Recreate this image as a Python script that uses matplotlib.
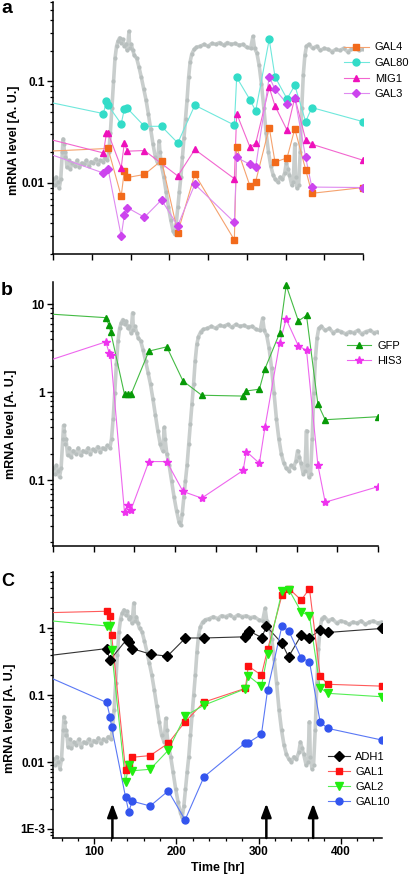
import numpy as np
import matplotlib
matplotlib.use('Agg')
import matplotlib.pyplot as plt
from matplotlib.lines import Line2D
from matplotlib.ticker import LogLocator, MultipleLocator, FuncFormatter, NullFormatter

plt.rcParams['font.family'] = ['Liberation Sans', 'DejaVu Sans']

# ---------------- background (grey) trace, shared by all panels ----------------
grey_t = [50, 52, 54, 56, 58, 60, 62, 63, 64, 65, 66, 68, 70, 72, 75, 78, 81, 84, 87, 90,
          93, 96, 99, 102, 105, 108, 111, 114, 117, 120, 122, 124, 126, 128, 130, 132, 134,
          136, 138, 140, 142, 144, 146, 148, 149, 151, 153, 155, 158, 161, 164, 167, 170,
          173, 176, 179, 182, 185, 187, 188, 190, 193, 196, 199, 202, 205, 207, 209, 211,
          213, 215, 217, 219, 221, 223, 225, 227, 229, 232, 235, 240, 245, 250, 255, 260,
          265, 270, 275, 280, 285, 290, 295, 300, 305, 308, 310, 313, 316, 319, 322, 325,
          328, 331, 334, 337, 340, 343, 346, 349, 351, 353, 355, 358, 360, 362, 363, 365,
          367, 369, 371, 373, 375, 377, 380, 385, 390, 395, 400, 405, 410, 415, 420, 425,
          430, 435, 440, 445, 450]
grey_v = [0.011, 0.009, 0.012, 0.010, 0.008, 0.011, 0.030, 0.048, 0.040, 0.025, 0.030, 0.017,
          0.022, 0.016, 0.020, 0.018, 0.022, 0.017, 0.020, 0.019, 0.022, 0.018, 0.021, 0.020,
          0.023, 0.019, 0.022, 0.021, 0.024, 0.022, 0.030, 0.06, 0.15, 0.4, 0.9, 1.4, 1.7,
          1.9, 1.6, 1.8, 1.4, 1.5, 1.2, 2.4, 1.3, 1.5, 1.2, 1.0, 0.9, 0.65, 0.45, 0.3, 0.2,
          0.12, 0.07, 0.04, 0.025, 0.02, 0.045, 0.03, 0.018, 0.012, 0.007, 0.004, 0.0025,
          0.0017, 0.0015, 0.0022, 0.004, 0.007, 0.012, 0.025, 0.05, 0.1, 0.2, 0.45, 0.8,
          1.05, 1.25, 1.35, 1.4, 1.5, 1.4, 1.55, 1.5, 1.6, 1.45, 1.6, 1.5, 1.55, 1.45, 1.5,
          1.35, 1.3, 2.0, 1.3, 1.1, 0.7, 0.35, 0.15, 0.06, 0.03, 0.018, 0.013, 0.011, 0.010,
          0.012, 0.011, 0.014, 0.02, 0.016, 0.013, 0.009, 0.010, 0.040, 0.012, 0.008, 0.009,
          0.03, 0.15, 0.5, 1.0, 1.4, 1.5, 1.3, 1.4, 1.2, 1.3, 1.25, 1.15, 1.25, 1.2, 1.3,
          1.15, 1.25, 1.3, 1.2, 1.25]

# ---------------- panel a ----------------
t_gal4 = [50, 121, 138, 142, 146, 168, 190, 211, 233, 284, 287, 304, 311.5, 329, 336.5, 352, 362, 376, 384, 450]
gal4 = [0.0206, 0.0218, 0.0074, 0.0131, 0.0113, 0.0121, 0.0166, 0.00325, 0.0122, 0.00275, 0.0224,
        0.0094, 0.0103, 0.035, 0.016, 0.0176, 0.034, 0.0135, 0.0079, 0.009]
t_gal80 = [50, 115, 119, 121, 138, 142, 146, 168, 190, 211, 233, 284, 287, 304, 311.5, 329, 336.5, 352, 362, 376, 384, 450]
gal80 = [0.061, 0.048, 0.064, 0.058, 0.038, 0.053, 0.054, 0.036, 0.036, 0.0247, 0.058, 0.037, 0.109,
         0.066, 0.051, 0.257, 0.11, 0.067, 0.091, 0.04, 0.055, 0.04]
t_mig1 = [50, 115, 119, 121, 138, 142, 146, 168, 211, 233, 284, 287, 304, 311.5, 329, 336.5, 352, 362, 376, 384, 450]
mig1 = [0.0263, 0.0197, 0.031, 0.031, 0.0141, 0.0247, 0.0205, 0.0208, 0.0117, 0.0213, 0.011, 0.048,
        0.0226, 0.0244, 0.087, 0.057, 0.033, 0.069, 0.0267, 0.024, 0.0167]
t_gal3 = [50, 115, 121, 138, 142, 146, 168, 190, 211, 233, 284, 287, 304, 311.5, 329, 336.5, 352, 362, 376, 384, 450]
gal3 = [0.0187, 0.0125, 0.0138, 0.003, 0.0048, 0.0057, 0.0046, 0.0068, 0.0038, 0.0097, 0.0041, 0.0178,
        0.0152, 0.0143, 0.11, 0.083, 0.060, 0.069, 0.0178, 0.0091, 0.009]

# ---------------- panel b ----------------
t_b = [50, 115, 119, 121, 138, 142, 146, 168, 190, 210, 233, 284, 288, 304, 311, 329, 337, 352, 362, 376, 385, 450]
gfp = [7.74, 7.08, 5.8, 4.88, 0.95, 0.95, 0.95, 2.95, 3.3, 1.35, 0.93, 0.91, 1.04, 1.09, 1.87, 4.75,
       16.5, 6.5, 7.5, 0.74, 0.49, 0.53]
his3 = [2.39, 3.76, 2.84, 2.65, 0.0433, 0.0529, 0.0464, 0.164, 0.164, 0.075, 0.063, 0.13, 0.213,
        0.157, 0.41, 3.66, 6.8, 3.38, 3.02, 0.15, 0.0566, 0.085]

# ---------------- panel c ----------------
t_adh1 = [50, 115, 119, 140, 142, 146, 169, 189, 211, 233.5, 284, 286, 288, 304, 309.5, 328.5, 336.5, 352, 362, 375, 384, 450]
adh1 = [0.40, 0.50, 0.336, 0.70, 0.63, 0.50, 0.41, 0.385, 0.72, 0.72, 0.75, 0.84, 0.92, 0.73, 1.08,
        0.60, 0.377, 0.79, 0.73, 0.94, 0.87, 1.0]
t_c = [50, 115, 119, 121, 138, 142, 146, 168, 190, 210.5, 233.5, 284, 287.5, 303.5, 311, 328.5, 337, 352, 362, 375, 384, 450]
gal1 = [1.73, 1.81, 1.53, 0.81, 0.0076, 0.0093, 0.0118, 0.0125, 0.0191, 0.04, 0.079, 0.127, 0.273,
        0.2, 0.485, 3.15, 3.96, 2.65, 3.96, 0.196, 0.146, 0.137]
gal2 = [1.29, 1.09, 1.08, 0.47, 0.005, 0.009, 0.0074, 0.0078, 0.015, 0.049, 0.071, 0.125, 0.196,
        0.137, 0.41, 3.6, 3.8, 1.77, 1.55, 0.13, 0.107, 0.095]
gal10 = [0.175, 0.078, 0.048, 0.0335, 0.003, 0.0018, 0.0026, 0.0022, 0.0037, 0.00136, 0.006, 0.0195,
         0.0195, 0.026, 0.12, 1.09, 0.91, 0.36, 0.32, 0.04, 0.032, 0.0214]
arrow_times = [122, 309.5, 366.5]

# ---------------------------------------------------------------------------
W, H = 415, 884
fig = plt.figure(figsize=(W / 100, H / 100), dpi=100)


def rect(l, r, t, b):
    return [l / W, (H - b) / H, (r - l) / W, (b - t) / H]


ax_a = fig.add_axes(rect(53, 363, 2, 254))
ax_b = fig.add_axes(rect(53, 378, 282, 546))
ax_c = fig.add_axes(rect(53.3, 381.7, 572, 838))

GREY = '#c9cecd'
GREY_LIM = (7.3e-4, 7.0)


def grey_trace(ax):
    g = ax.twinx()
    g.set_yscale('log')
    g.set_ylim(*GREY_LIM)
    g.set_xlim(50, 450)
    g.plot(grey_t, grey_v, color=GREY, lw=2.6, solid_joinstyle='round')
    g.plot(grey_t, grey_v, ls='none', marker='o', ms=3.0, mec='none', mfc='#b8bfbe')
    g.set_axis_off()
    ax.set_zorder(g.get_zorder() + 1)
    ax.patch.set_visible(False)


def series(ax, t, v, lc, mc, marker, ms=5):
    ax.plot(t, v, color=lc, lw=0.8, zorder=3)
    ax.plot(t[1:], v[1:], ls='none', marker=marker, ms=ms, mfc=mc, mec=mc, zorder=4)
    return Line2D([], [], color=lc, lw=0.8, marker=marker, ms=ms, mfc=mc, mec=mc)


def style(ax, ylim):
    ax.set_yscale('log')
    ax.set_ylim(*ylim)
    ax.set_xlim(50, 450)
    for s in ['top', 'right']:
        ax.spines[s].set_visible(False)
    for s in ['left', 'bottom']:
        ax.spines[s].set_linewidth(1.1)
    ax.yaxis.set_major_locator(LogLocator(base=10, numticks=20))
    ax.yaxis.set_minor_locator(LogLocator(base=10, subs=np.arange(2, 10), numticks=20))
    ax.yaxis.set_minor_formatter(NullFormatter())
    ax.tick_params(axis='both', which='major', direction='out', length=4, width=1.0,
                   labelsize=8.5, pad=2)
    ax.tick_params(axis='both', which='minor', direction='out', length=2.2, width=0.9)


def yfmt(v, pos):
    if v >= 1:
        return '%d' % round(v)
    if abs(v - 1e-3) < 1e-9:
        return '1E-3'
    return ('%g' % v)


# ---------------- panel a ----------------
grey_trace(ax_a)
h = []
h.append(series(ax_a, t_gal4, gal4, '#f5a26e', '#f26a1b', 's', 4.6))
h.append(series(ax_a, t_gal80, gal80, '#6fe8dc', '#33dcc8', 'o', 5))
h.append(series(ax_a, t_mig1, mig1, '#f266cf', '#ee11bb', '^', 5))
h.append(series(ax_a, t_gal3, gal3, '#df8af0', '#cc44ee', 'D', 4.4))
style(ax_a, (0.002, 0.6))
ax_a.xaxis.set_major_locator(MultipleLocator(50))
ax_a.xaxis.set_major_formatter(NullFormatter())
ax_a.yaxis.set_major_formatter(FuncFormatter(yfmt))
ax_a.legend(h, ['GAL4', 'GAL80', 'MIG1', 'GAL3'], loc='upper left',
            bbox_to_anchor=(0.925, 0.857), frameon=False, fontsize=8,
            handlelength=2.2, handletextpad=0.55, labelspacing=0.5, borderaxespad=0)

# ---------------- panel b ----------------
grey_trace(ax_b)
h = []
h.append(series(ax_b, t_b, gfp, '#44bb44', '#079a07', '^', 5))
h.append(series(ax_b, t_b, his3, '#ee66ee', '#ee33ee', '*', 6))
style(ax_b, (0.018, 18))
ax_b.xaxis.set_major_locator(MultipleLocator(50))
ax_b.xaxis.set_major_formatter(NullFormatter())
ax_b.yaxis.set_major_formatter(FuncFormatter(yfmt))
ax_b.legend(h, ['GFP', 'HIS3'], loc='upper left',
            bbox_to_anchor=(0.891, 0.795), frameon=False, fontsize=8,
            handlelength=2.2, handletextpad=0.55, labelspacing=0.5, borderaxespad=0)

# ---------------- panel c ----------------
grey_trace(ax_c)
h = []
h.append(series(ax_c, t_adh1, adh1, '#333333', '#000000', 'D', 4.6))
h.append(series(ax_c, t_c, gal1, '#ff5a5a', '#ff1111', 's', 4.6))
h.append(series(ax_c, t_c, gal2, '#55ee55', '#22ee11', 'v', 5.2))
h.append(series(ax_c, t_c, gal10, '#5a78f5', '#3355ee', 'o', 5))
style(ax_c, GREY_LIM)
ax_c.xaxis.set_major_locator(MultipleLocator(100))
ax_c.xaxis.set_minor_locator(MultipleLocator(20))
ax_c.yaxis.set_major_formatter(FuncFormatter(yfmt))
ax_c.set_xlabel('Time [hr]', fontsize=9, fontweight='bold', labelpad=3)
for ta in arrow_times:
    ax_c.annotate('', xy=(ta, 0.0024), xytext=(ta, GREY_LIM[0]),
                  arrowprops=dict(arrowstyle='-|>,head_width=0.3,head_length=0.8',
                                  lw=1.8, color='black', shrinkA=0, shrinkB=0),
                  zorder=6, annotation_clip=False)
ax_c.legend(h, ['ADH1', 'GAL1', 'GAL2', 'GAL10'], loc='upper left',
            bbox_to_anchor=(0.823, 0.339), frameon=False, fontsize=8,
            handlelength=2.0, handletextpad=0.45, labelspacing=0.45, borderaxespad=0)

for ax in (ax_a, ax_b, ax_c):
    for lab in ax.get_yticklabels() + ax.get_xticklabels():
        lab.set_fontweight('bold')

# y labels (right edge of text at given x, in axes coordinates)
ax_a.set_ylabel('mRNA level [A. U.]', fontsize=9, fontweight='bold')
ax_a.yaxis.set_label_coords((20 - 53) / 310, 0.45)
ax_b.set_ylabel('mRNA level [A. U.]', fontsize=9, fontweight='bold')
ax_b.yaxis.set_label_coords((17 - 53) / 325, 0.46)
ax_c.set_ylabel('mRNA level [A. U.]', fontsize=9, fontweight='bold')
ax_c.yaxis.set_label_coords((16 - 53.3) / 328.4, 0.45)

# panel letters
fig.text(1 / W, 1 - 0 / H, 'a', fontsize=14, fontweight='bold', va='top', ha='left')
fig.text(1 / W, 1 - 282 / H, 'b', fontsize=14, fontweight='bold', va='top', ha='left')
fig.text(1 / W, 1 - 573 / H, 'C', fontsize=13, fontweight='bold', va='top', ha='left')

fig.savefig('out.png', dpi=100)
